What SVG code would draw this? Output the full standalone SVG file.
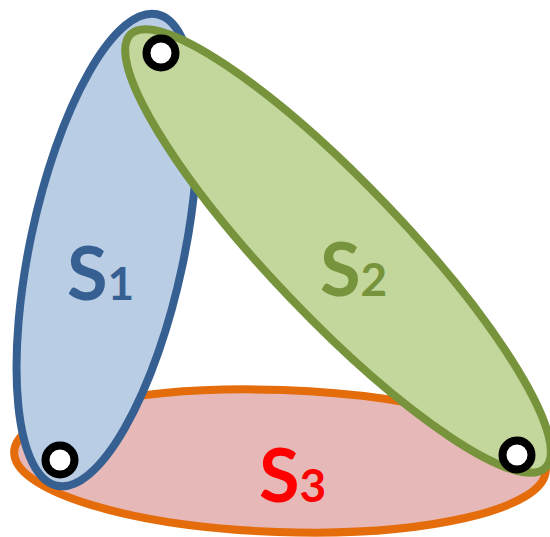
<svg xmlns="http://www.w3.org/2000/svg" width="550" height="537" viewBox="0 0 550 537">
<style>
.set{stroke-width:8}
.lbl{font-family:Lato,"Open Sans","Liberation Sans",sans-serif;font-weight:bold;font-size:74px}
.sub{font-size:46px}
.pt{fill:#fff;stroke:#000;stroke-width:8}
</style>
<rect width="550" height="537" fill="#fff"/>
<g id="S3">
<ellipse class="set" cx="280" cy="461" rx="266" ry="71" transform="rotate(2 280 461)" fill="#E6B9B8" stroke="#E46C0A"/>
<text class="lbl" x="259" y="502" fill="#FF0000">S<tspan class="sub">3</tspan></text>
</g>
<g id="S1">
<ellipse class="set" cx="107" cy="250" rx="77" ry="241" transform="rotate(12 107 250)" fill="#B9CDE5" stroke="#376092"/>
<text class="lbl" x="67" y="300" fill="#376092">S<tspan class="sub">1</tspan></text>
</g>
<g id="S2">
<ellipse class="set" cx="338" cy="251" rx="300" ry="67" transform="rotate(46.3 338 251)" fill="#C3D69B" stroke="#77933C"/>
<text class="lbl" x="320" y="296" fill="#77933C">S<tspan class="sub">2</tspan></text>
</g>
<g id="vertices">
<circle class="pt" cx="161" cy="53" r="14.5"/>
<circle class="pt" cx="60" cy="460" r="14.5"/>
<circle class="pt" cx="517" cy="455" r="14.5"/>
</g>
</svg>
